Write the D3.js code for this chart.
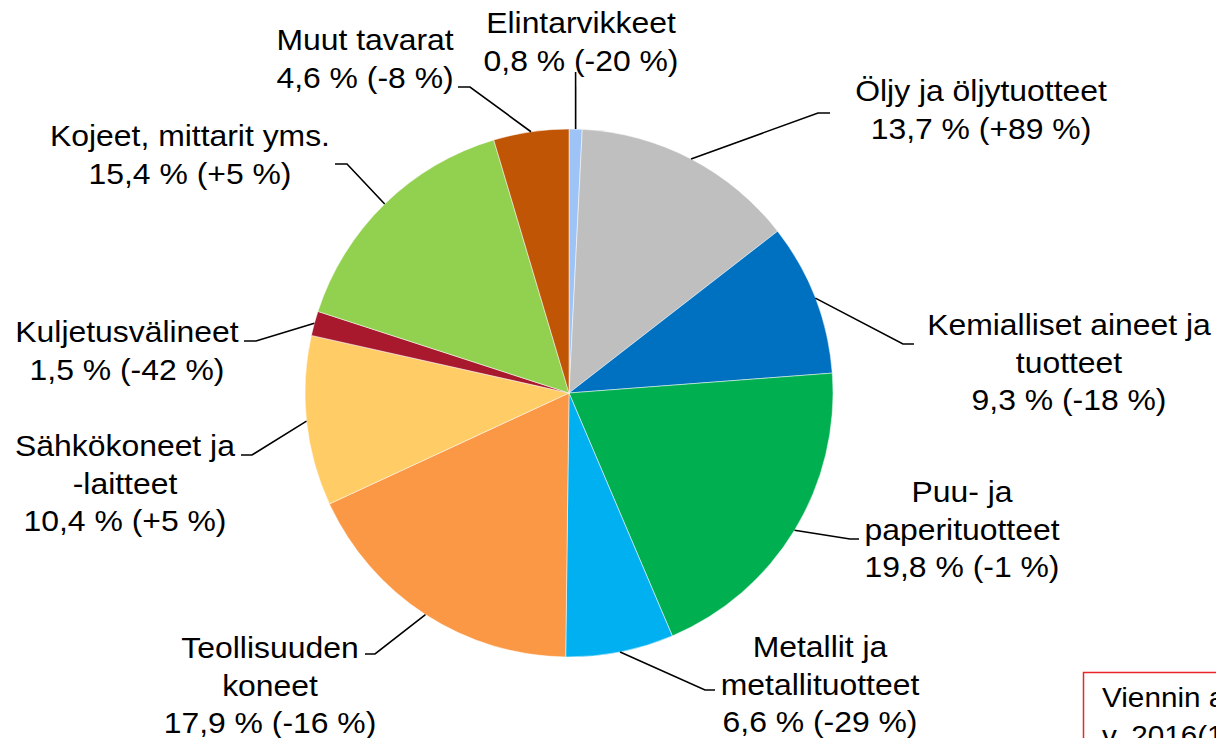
<!DOCTYPE html>
<html>
<head>
<meta charset="utf-8">
<script src="https://cdn.jsdelivr.net/npm/d3@7"></script>
<style>
  body { margin: 0; background: #fff; overflow: hidden; }
  text { font-family: "Liberation Sans", Arial, sans-serif; fill: #000; }
</style>
</head>
<body>
<div id="chart"></div>
<script>
// slices go clockwise from 12 o'clock
var categories = ["Elintarvikkeet", "Öljy ja öljytuotteet", "Kemialliset aineet ja tuotteet",
  "Puu- ja paperituotteet", "Metallit ja metallituotteet", "Teollisuuden koneet",
  "Sähkökoneet ja -laitteet", "Kuljetusvälineet", "Kojeet, mittarit yms.", "Muut tavarat"];
// how the names wrap in the labels
var nameLines = [
  ["Elintarvikkeet"],
  ["Öljy ja öljytuotteet"],
  ["Kemialliset aineet ja", "tuotteet"],
  ["Puu- ja", "paperituotteet"],
  ["Metallit ja", "metallituotteet"],
  ["Teollisuuden", "koneet"],
  ["Sähkökoneet ja", "-laitteet"],
  ["Kuljetusvälineet"],
  ["Kojeet, mittarit yms."],
  ["Muut tavarat"]
];
var shares = [0.8, 13.7, 9.3, 19.8, 6.6, 17.9, 10.4, 1.5, 15.4, 4.6];   // % of exports
var changes = [-20, 89, -18, -1, -29, -16, 5, -42, 5, -8];              // change %
var colors = ["#9DC3F7", "#BEBFBE", "#0070C0", "#00B050", "#00B0F0",
  "#FA9845", "#FFCC66", "#A8192E", "#92D050", "#C05505"];

// label layout: text centre x, first baseline y, stub of the leader line (end, elbow)
var labelPos = [
  {x: 581, y: 33, stub: [[575.6, 72]]},
  {x: 981, y: 101, stub: [[830, 113], [818, 113]]},
  {x: 1069, y: 335, stub: [[914, 344], [903, 344]]},
  {x: 962, y: 502, stub: [[859, 539], [850, 539]]},
  {x: 820, y: 657, stub: [[715, 690], [705, 690]]},
  {x: 270, y: 658, stub: [[365, 654], [375, 654]]},
  {x: 125, y: 456, stub: [[241, 455], [252, 455]]},
  {x: 127, y: 342, stub: [[244, 341], [256, 341]]},
  {x: 190, y: 146, stub: [[335, 164], [347, 164]]},
  {x: 365, y: 50, stub: [[458, 87], [470, 87]]}
];

var width = 1216, height = 738;
var cx = 569, cy = 393, radius = 264;
var lineStep = 37.5;

var data = categories.map(function(c, i) {
  return {name: c, lines: nameLines[i], share: shares[i], change: changes[i], color: colors[i], pos: labelPos[i]};
});

var svg = d3.select("#chart").append("svg")
    .attr("width", width)
    .attr("height", height);

var pie = d3.pie().sort(null).value(function(d) { return d.share; });
var arc = d3.arc().innerRadius(0).outerRadius(radius);
var arcs = pie(data);

var g = svg.append("g").attr("transform", "translate(" + cx + "," + cy + ")");

g.selectAll("path.slice")
  .data(arcs)
  .enter()
  .append("path")
  .attr("class", "slice")
  .attr("d", arc)
  .attr("fill", function(d) { return d.data.color; })
  .attr("stroke", "#fff")
  .attr("stroke-width", 0.5);

// leader lines: from label stub to slice edge at mid angle
function edgePoint(d) {
  var a = (d.startAngle + d.endAngle) / 2;
  return [cx + radius * Math.sin(a), cy - radius * Math.cos(a)];
}

svg.selectAll("path.leader")
  .data(arcs)
  .enter()
  .append("path")
  .attr("class", "leader")
  .attr("d", function(d) { return d3.line()(d.data.pos.stub.concat([edgePoint(d)])); })
  .attr("fill", "none")
  .attr("stroke", "#000")
  .attr("stroke-width", 1.6);

var fmtShare = function(v) { return v.toFixed(1).replace(".", ",") + " %"; };
var fmtChange = function(v) { return (v > 0 ? "+" : "") + v + " %"; };

var labels = svg.selectAll("g.label")
  .data(data)
  .enter()
  .append("g")
  .attr("class", "label");

labels.each(function(d) {
  var lines = d.lines.concat([fmtShare(d.share) + " (" + fmtChange(d.change) + ")"]);
  var sel = d3.select(this);
  lines.forEach(function(t, k) {
    sel.append("text")
      .attr("transform", "translate(" + d.pos.x + "," + (d.pos.y + k * lineStep) + ") scale(1.1,1)")
      .attr("text-anchor", "middle")
      .style("font-size", "29px")
      .text(t);
  });
});

// note box, cut off at the corner
var note = svg.append("g");
note.append("rect")
  .attr("x", 1083.5).attr("y", 672.5)
  .attr("width", 200).attr("height", 120)
  .attr("fill", "#fff")
  .attr("stroke", "#E8262B")
  .attr("stroke-width", 1.5);
["Viennin arvo yht.", "v. 2016(1-12)"].forEach(function(t, k) {
  note.append("text")
    .attr("transform", "translate(1102," + (707 + k * 38) + ") scale(1.1,1)")
    .style("font-size", "27px")
    .text(t);
});
</script>
</body>
</html>
